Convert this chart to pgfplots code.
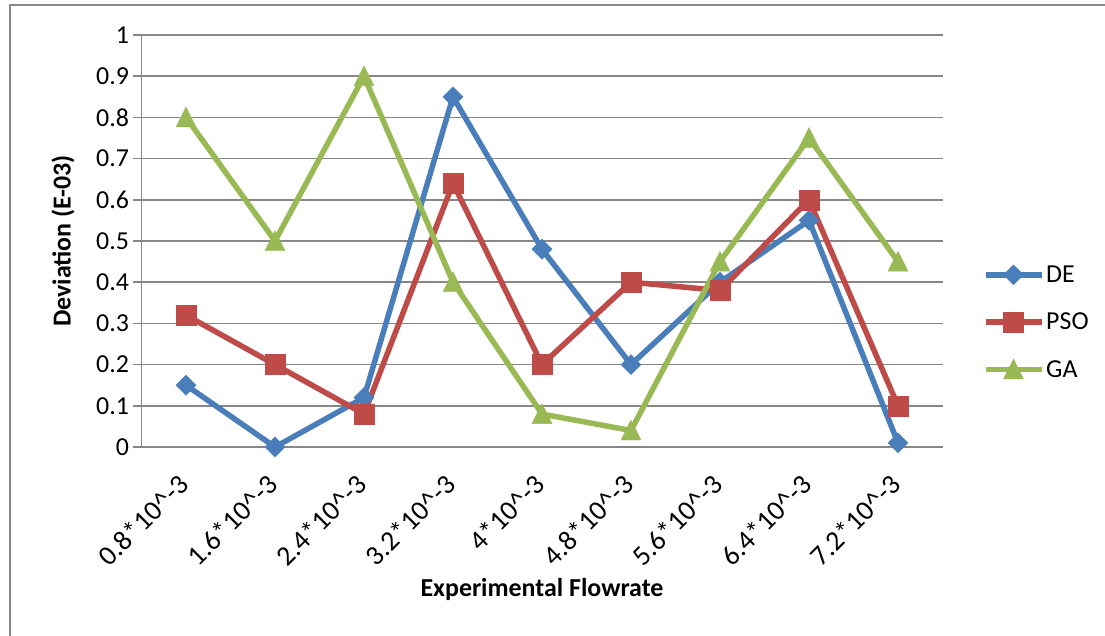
\documentclass[border=0pt]{standalone}
\usepackage{pgfplots}
\pgfplotsset{compat=1.18}
\usepackage{fontspec}
\setmainfont{Carlito}
\definecolor{deblue}{HTML}{4A7EBB}
\definecolor{psored}{HTML}{BE4B48}
\definecolor{gagreen}{HTML}{98B954}
\definecolor{gridgray}{HTML}{878787}
\newcommand\fl[1]{#1*10\textasciicircum{}-3}
\begin{document}
\begin{tikzpicture}
\useasboundingbox (0bp,0bp) rectangle (1105bp,-636bp);
\draw[gridgray, line width=1.5bp] (10bp,-640bp) -- (10bp,-5bp) -- (1110bp,-5bp);
\begin{axis}[
  at={(141.5bp,-447bp)}, anchor=south west,
  scale only axis, width=801bp, height=412bp,
  xmin=-0.5, xmax=8.5, ymin=0, ymax=1,
  axis x line*=bottom, axis y line*=left,
  axis line style={gridgray, line width=1.5bp, -},
  ymajorgrids, grid style={gridgray, line width=1.5bp},
  ytick={0,0.1,0.2,0.3,0.4,0.5,0.6,0.7,0.8,0.9,1},
  yticklabel style={/pgf/number format/.cd, fixed, precision=1, assume math mode=true},
  tick align=outside, major tick length=9bp,
  ytick style={gridgray, line width=1.5bp},
  xtick={0,...,8}, xtick style={draw=none},
  xticklabels={\fl{0.8},\fl{1.6},\fl{2.4},\fl{3.2},\fl{4},\fl{4.8},\fl{5.6},\fl{6.4},\fl{7.2}},
  ticklabel style={font=\fontsize{26}{31}\selectfont},
  xticklabel style={rotate=45, anchor=east, font=\fontsize{28}{33}\selectfont},
  xticklabel shift={21bp},
  xlabel={\bfseries Experimental Flowrate},
  ylabel={\bfseries Deviation (E-03)},
  label style={font=\fontsize{26}{31}\selectfont},
  xlabel style={at={(axis description cs:0.5,-0.345)}, anchor=center},
  ylabel style={at={(axis description cs:-0.098,0.5)}, anchor=center},
  legend style={draw=none, fill=none, at={(1.05,0.303)}, anchor=west,
    font=\fontsize{26}{31}\selectfont, row sep=25bp, inner sep=0pt},
  legend cell align=left,
  legend image code/.code={\draw[mark repeat=2,mark phase=2,#1] plot coordinates {(0bp,0bp)(28bp,0bp)(56bp,0bp)};},
]
\addplot[deblue, line width=5.5bp, mark=square*, mark size=7.1bp, mark options={solid, line width=0.4bp, rotate=45}]
  coordinates {(0,0.15)(1,0.0)(2,0.12)(3,0.85)(4,0.48)(5,0.2)(6,0.4)(7,0.55)(8,0.01)};
\addplot[psored, line width=5.5bp, mark=square*, mark size=10bp, mark options={solid, line width=0.4bp}]
  coordinates {(0,0.32)(1,0.2)(2,0.08)(3,0.64)(4,0.2)(5,0.4)(6,0.38)(7,0.6)(8,0.1)};
\addplot[gagreen, line width=5.5bp, mark=triangle*, mark size=11.5bp, mark options={solid, line width=0.4bp, yshift=-2.9bp, yscale=1.15}]
  coordinates {(0,0.8)(1,0.5)(2,0.9)(3,0.4)(4,0.08)(5,0.04)(6,0.45)(7,0.75)(8,0.45)};
\legend{DE,PSO,GA}
\end{axis}
\end{tikzpicture}
\end{document}
